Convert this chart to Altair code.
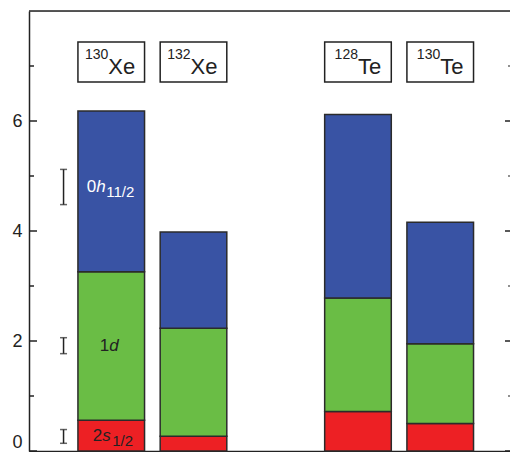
import altair as alt
import pandas as pd

# ---- data ----
isotopes = ["130Xe", "132Xe", "128Te", "130Te"]
mass_numbers = ["130", "132", "128", "130"]
elements = ["Xe", "Xe", "Te", "Te"]
shells = ["2s1/2", "1d", "0h11/2"]
occ_2s = [0.56, 0.27, 0.72, 0.50]
occ_1d = [2.70, 1.96, 2.06, 1.45]
occ_0h = [2.92, 1.75, 3.34, 2.21]
err_low = [0.14, 1.77, 4.48]
err_high = [0.39, 2.06, 5.12]
shell_prefix = ["2", "1", "0"]
shell_letter = ["s", "d", "h"]
shell_sub = ["1/2", "", "11/2"]
major_ticks = [0, 2, 4, 6]
minor_ticks = [1, 3, 5, 7]
colors = ["#ed2024", "#6abd45", "#3953a4"]

W, H = 491, 440
PAD_L = 21
SVG_W = 502            # whole svg width that fits the page
W_VIS = SVG_W - PAD_L  # visible part of the plot (the right frame is cut off)
FONT = "Liberation Sans"
INK = "#222222"
HALF = 0.405

# slot positions: a gap between the Xe pair and the Te pair
slots = []
for i, el in enumerate(elements):
    slots.append(i + (1 if el == "Te" else 0))

rows = []
for i, iso in enumerate(isotopes):
    vals = [occ_2s[i], occ_1d[i], occ_0h[i]]
    base = 0.0
    for sh, v in zip(shells, vals):
        rows.append({"iso": iso, "shell": sh, "x0": slots[i] - HALF, "x1": slots[i] + HALF,
                     "y0": base, "y1": base + v})
        base += v
bars_df = pd.DataFrame(rows)

xscale = alt.Scale(domain=[-1, 4.97], nice=False, zero=False)
yscale = alt.Scale(domain=[0, 8], nice=False, zero=True)

xaxis = alt.Axis(labels=False, ticks=False, domain=True, grid=False, title=None,
                 domainColor=INK, domainWidth=1.5)
yaxis = alt.Axis(values=major_ticks, format="d", ticks=False, domain=True, grid=False,
                 title=None, labelFont=FONT, labelFontSize=18, labelColor=INK,
                 labelPadding=7, labelFlush=True, domainColor=INK, domainWidth=1.5)

bars = alt.Chart(bars_df).mark_rect(stroke="#2b2b2b", strokeWidth=1.5).encode(
    x=alt.X("x0:Q", scale=xscale, axis=xaxis),
    x2="x1:Q",
    y=alt.Y("y0:Q", scale=yscale, axis=yaxis),
    y2="y1:Q",
    color=alt.Color("shell:N", scale=alt.Scale(domain=shells, range=colors), legend=None),
)

# top frame line
top = alt.Chart(pd.DataFrame({"y": [8]})).mark_rule(color=INK, strokeWidth=1.5).encode(
    y=alt.Y("y:Q", scale=yscale), x=alt.value(0), x2=alt.value(W))

# inward ticks
maj_df = pd.DataFrame({"y": major_ticks})
min_df = pd.DataFrame({"y": minor_ticks})
tick_layers = [
    alt.Chart(maj_df).mark_rule(color=INK, strokeWidth=1.5).encode(
        y=alt.Y("y:Q", scale=yscale), x=alt.value(0), x2=alt.value(8)),
    alt.Chart(min_df).mark_rule(color=INK, strokeWidth=1.5).encode(
        y=alt.Y("y:Q", scale=yscale), x=alt.value(0), x2=alt.value(5)),
    alt.Chart(maj_df).mark_rule(color=INK, strokeWidth=1.5).encode(
        y=alt.Y("y:Q", scale=yscale), x=alt.value(W_VIS - 5), x2=alt.value(W_VIS)),
    alt.Chart(min_df).mark_rule(color=INK, strokeWidth=1.2).encode(
        y=alt.Y("y:Q", scale=yscale), x=alt.value(W_VIS - 2), x2=alt.value(W_VIS)),
]

# error bars (left of the first bar)
ERR_X = -0.58
err_df = pd.DataFrame({"shell": shells, "lo": err_low, "hi": err_high, "x": [ERR_X] * 3,
                       "mid": [(a + b) / 2 for a, b in zip(err_low, err_high)]})
err_v = alt.Chart(err_df).mark_rule(color=INK, strokeWidth=1.5).encode(
    x=alt.X("x:Q", scale=xscale), y=alt.Y("lo:Q", scale=yscale), y2="hi:Q")
err_lo = alt.Chart(err_df).mark_tick(color=INK, orient="horizontal", size=7, thickness=1.5).encode(
    x=alt.X("x:Q", scale=xscale), y=alt.Y("lo:Q", scale=yscale))
err_hi = alt.Chart(err_df).mark_tick(color=INK, orient="horizontal", size=7, thickness=1.5).encode(
    x=alt.X("x:Q", scale=xscale), y=alt.Y("hi:Q", scale=yscale))

# shell labels inside the first bar
label_layers = []
anchor_dx = [-9, -2, -15]
sub_gap = [10, 0, 10]
for k in range(3):
    d = pd.DataFrame({"x": [slots[0]], "y": [err_df["mid"][k]]})
    col = "white" if k == 2 else INK
    enc = dict(x=alt.X("x:Q", scale=xscale), y=alt.Y("y:Q", scale=yscale))
    label_layers.append(alt.Chart(d).mark_text(
        text=shell_prefix[k], font=FONT, fontSize=17, color=col, align="right",
        baseline="middle", dx=anchor_dx[k]).encode(**enc))
    label_layers.append(alt.Chart(d).mark_text(
        text=shell_letter[k], font=FONT, fontSize=17, fontStyle="italic", color=col,
        align="left", baseline="middle", dx=anchor_dx[k]).encode(**enc))
    if shell_sub[k]:
        label_layers.append(alt.Chart(d).mark_text(
            text=shell_sub[k], font=FONT, fontSize=15, color=col, align="left",
            baseline="middle", dx=anchor_dx[k] + sub_gap[k], dy=5).encode(**enc))

# isotope label boxes
box_df = pd.DataFrame({"iso": isotopes, "mass": mass_numbers, "el": elements,
                       "x0": [s - HALF for s in slots], "x1": [s + HALF for s in slots],
                       "x": slots})
boxes = alt.Chart(box_df).mark_rect(fill="white", stroke=INK, strokeWidth=1.5).encode(
    x=alt.X("x0:Q", scale=xscale), x2="x1:Q", y=alt.value(31), y2=alt.value(71))
iso_layers = []
for el, dxa in [("Xe", -3), ("Te", 0)]:
    sub = alt.Chart(box_df).transform_filter(alt.datum.el == el)
    iso_layers.append(sub.mark_text(font=FONT, fontSize=14, color=INK, align="right",
                                    baseline="alphabetic", dx=dxa).encode(
        x=alt.X("x:Q", scale=xscale), y=alt.value(48), text="mass:N"))
    iso_layers.append(sub.mark_text(font=FONT, fontSize=22, color=INK, align="left",
                                    baseline="alphabetic", dx=dxa).encode(
        x=alt.X("x:Q", scale=xscale), y=alt.value(62.5), text="el:N"))

chart = alt.layer(
    bars, top, *tick_layers, err_v, err_lo, err_hi, *label_layers, boxes, *iso_layers
).properties(
    width=W, height=H, autosize="none",
    padding={"left": PAD_L, "top": 3, "right": SVG_W - PAD_L - W, "bottom": 1},
).configure_view(stroke=None).configure(background="white")

chart.save("out.html", embed_options={"renderer": "svg", "actions": False})
